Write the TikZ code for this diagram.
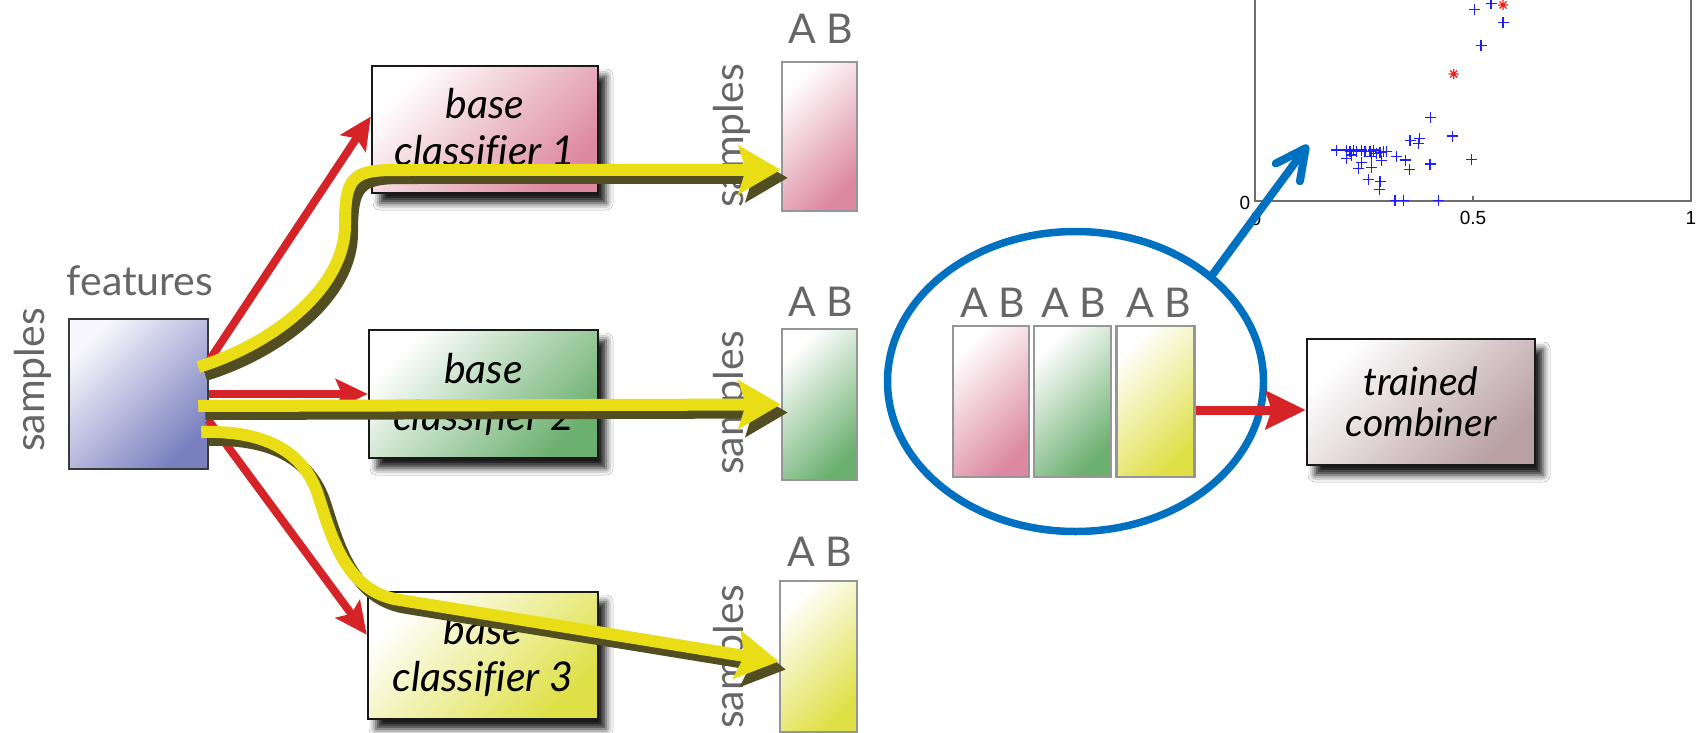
\documentclass[tikz,border=0pt]{standalone}
\usepackage{fontspec}
\setmainfont{Lato}[Ligatures=NoCommon]
\newfontfamily\plotfont{Liberation Sans}
\usetikzlibrary{arrows.meta,shadows.blur,calc,shapes.geometric}
\definecolor{labelgray}{RGB}{102,102,102}
\definecolor{redarrow}{RGB}{214,35,40}
\definecolor{yellowarrow}{RGB}{233,222,22}
\definecolor{yshadowc}{RGB}{82,78,34}
\definecolor{ellblue}{RGB}{0,112,192}
\definecolor{featC}{RGB}{122,128,190}
\definecolor{featstart}{RGB}{246,246,252}
\definecolor{featborder}{RGB}{58,58,58}
\definecolor{pinkC}{RGB}{220,136,160}
\definecolor{greenC}{RGB}{108,176,112}
\definecolor{yelC}{RGB}{222,224,70}
\definecolor{combC}{RGB}{185,160,163}
\definecolor{colborder}{RGB}{150,150,150}
\definecolor{boxborder}{RGB}{25,25,25}
\definecolor{axisgray}{RGB}{110,110,110}
\definecolor{plotblue}{RGB}{30,30,255}
\definecolor{plotred}{RGB}{240,30,30}
\begin{document}
\begin{tikzpicture}[x=1pt,y=-1pt,
  shadedbox/.style={top color=white, bottom color=#1, shading angle=45},
  clsbox/.style={shadedbox=#1, draw=boxborder, line width=2.5pt, inner sep=0pt,
    align=center, font=\fontsize{41}{47}\selectfont\itshape,
    blur shadow={shadow xshift=8pt, shadow yshift=-10pt, shadow blur radius=7pt, shadow opacity=90}},
  colbox/.style={shadedbox=#1, draw=colborder, line width=2.5pt, inner sep=0pt},
  glabel/.style={text=labelgray, inner sep=0pt, font=\fontsize{41}{48}\selectfont},
  ablbl/.style={text=labelgray, inner sep=0pt, font=\fontsize{41}{48}\selectfont, anchor=base},
  redarr/.style={draw=redarrow, line width=8pt, -{Stealth[length=32pt,width=30pt,inset=6pt]}},
  yel/.style={draw=yellowarrow, line width=12pt, -{Stealth[length=42pt,width=48pt,inset=7pt]}},
  yelsh/.style={yel, draw=yshadowc, transform canvas={xshift=7pt,yshift=-8pt}},
  bluearr/.style={draw=ellblue, line width=8pt, line cap=round, -{Straight Barb[length=30pt,width=30pt,round]}},
  plotlbl/.style={inner sep=0pt, font=\plotfont\fontsize{19}{21}\selectfont}
]
\path[use as bounding box] (0,0) rectangle (1701,732);
\clip (0,0) rectangle (1701,732);
\fill[white] (0,0) rectangle (1701,732);

% ---------- plot ----------
\draw[axisgray, line width=1.5pt] (1255,-10) -- (1255,201) -- (1691,201) -- (1691,-10);
\draw[axisgray, line width=1.5pt] (1473,201) -- (1473,196);
\foreach \x/\y in {1474.3/9.3, 1491/3.3, 1503/22.7, 1481/45.3, 1430.7/117.3, 1452.3/136,
  1410/140.7, 1419.3/138.3, 1418.3/143.3, 1471.7/159.3, 1430/164, 1336.7/150, 1346.7/150,
  1350/151.7, 1353.3/150, 1356.7/151.7, 1361.7/150, 1365/151.7, 1370/151.7, 1373.3/150,
  1376.7/153.3, 1380/152.7, 1383.3/151.7, 1386.7/151.7, 1346.7/158.3, 1351.7/155,
  1371.7/156.7, 1361.7/162.7, 1358.3/168.3, 1371.7/167.3, 1381.7/160.7, 1396.7/156.7,
  1405.7/160, 1409.3/169.3, 1368.3/179.3, 1380/181.7, 1379.3/189.3, 1395/200.7,
  1403.3/200.7, 1438.3/200.7}
  {\draw[plotblue, line width=1.2pt] (\x-5.5,\y) -- (\x+5.5,\y) (\x,\y-5.5) -- (\x,\y+5.5);}
\foreach \x/\y in {1503/5, 1453.7/74}
  {\draw[plotred, line width=1.2pt] (\x-5,\y) -- (\x+5,\y) (\x,\y-5) -- (\x,\y+5)
     (\x-3.5,\y-3.5) -- (\x+3.5,\y+3.5) (\x-3.5,\y+3.5) -- (\x+3.5,\y-3.5);}
\node[plotlbl] (y0) at (1245,202.5) {0};
\node[plotlbl] (x0) at (1256,219) {0};
\node[plotlbl] (x05) at (1473,218) {0.5};
\node[plotlbl] (x1) at (1691,218) {1};
\coordinate (ptip) at (1308,145);

% ---------- ellipse group ----------
\node[draw=ellblue, line width=7.5pt, ellipse, inner sep=0pt,
      minimum width=376pt, minimum height=300pt] (ell) at (1075.5,381.5) {};
\node[colbox=pinkC, minimum width=76pt, minimum height=151pt] (i1) at (991,401.5) {};
\node[colbox=greenC, minimum width=77pt, minimum height=151pt] (i2) at (1072.5,401.5) {};
\node[colbox=yelC, minimum width=78pt, minimum height=151pt] (i3) at (1155.5,401.5) {};
\node[ablbl] (iab1) at (992.5,317) {A\hspace{0.26em}B};
\node[ablbl] (iab2) at (1073.5,317) {A\hspace{0.26em}B};
\node[ablbl] (iab3) at (1158.5,317) {A\hspace{0.26em}B};

% combiner
\node[clsbox=combC, minimum width=228pt, minimum height=126pt,
      font=\fontsize{39}{41}\selectfont\itshape] (comb) at (1421,402) {trained\\combiner};
\draw[redarr, line width=9pt, -{Stealth[length=40pt,width=38pt,inset=6pt]}]
  ($(i3.east)+(0,8.5)$) -- ($(comb.west)+(0,8)$);

% blue arrow
\draw[bluearr] (ell.38) -- (ptip);

% ---------- left part ----------
\node[glabel, anchor=base] (featlbl) at (140,295) {features};
\node[glabel, rotate=90, anchor=base] (samplbl) at (44,380) {samples};
\node[top color=featstart, bottom color=featC, shading angle=45, draw=featborder, line width=2.5pt, inner sep=0pt,
      minimum width=139pt, minimum height=150pt] (feat) at (138.5,394) {};

\node[clsbox=pinkC, minimum width=226pt, minimum height=127pt] (b1) at (485,129.5) {base\\classifier 1};
\node[clsbox=greenC, minimum width=229pt, minimum height=128pt] (b2) at (483.5,394) {base\\classifier 2};
\node[clsbox=yelC, minimum width=230pt, minimum height=127pt] (b3) at (483,655.5) {base\\classifier 3};

\draw[redarr] ($(feat.east)+(-1,-32)$) -- ($(b1.north west)!0.40!(b1.south west)$);
\draw[redarr] (feat.east) -- (b2.west);
\draw[redarr] ($(feat.east)+(-1,26)$) -- ($(b3.north west)!0.34!(b3.south west)$);

% output columns
\node[colbox=pinkC, minimum width=75pt, minimum height=149pt] (c1) at (819.5,136.5) {};
\node[colbox=greenC, minimum width=75pt, minimum height=151pt] (c2) at (819.5,404.5) {};
\node[colbox=yelC, minimum width=77pt, minimum height=151pt] (c3) at (818.5,656.5) {};
\node[ablbl] (ab1) at (821,43) {A\hspace{0.26em}B};
\node[ablbl] (ab2) at (821,316) {A\hspace{0.26em}B};
\node[ablbl] (ab3) at (820,566) {A\hspace{0.26em}B};
\node[glabel, rotate=90, anchor=base] (s1) at (743,136) {samples};
\node[glabel, rotate=90, anchor=base] (s2) at (743,403) {samples};
\node[glabel, rotate=90, anchor=base] (s3) at (743,657) {samples};

% ---------- yellow arrows ----------
\coordinate (ys1) at ($(feat.east)+(-11,-27)$);
\coordinate (ys2) at ($(feat.east)+(-11,12)$);
\coordinate (ys3) at ($(feat.east)+(-8,38)$);
\coordinate (yt1) at ($(c1.north west)!0.72!(c1.south west)$);
\coordinate (yt3) at ($(c3.west)+(0,5)$);
\foreach \st in {yelsh,yel}{
  \draw[\st] (ys1) .. controls (270,345) and (345,290) .. (345,225)
     .. controls (345,178) and (352,170) .. (395,170) -- (yt1);
  \draw[\st] (ys2) -- (c2.west);
  \draw[\st] (ys3) .. controls (270,430) and (305,455) .. (318,495)
     .. controls (331,535) and (345,592) .. (400,600) -- (yt3);
}
\end{tikzpicture}
\end{document}
